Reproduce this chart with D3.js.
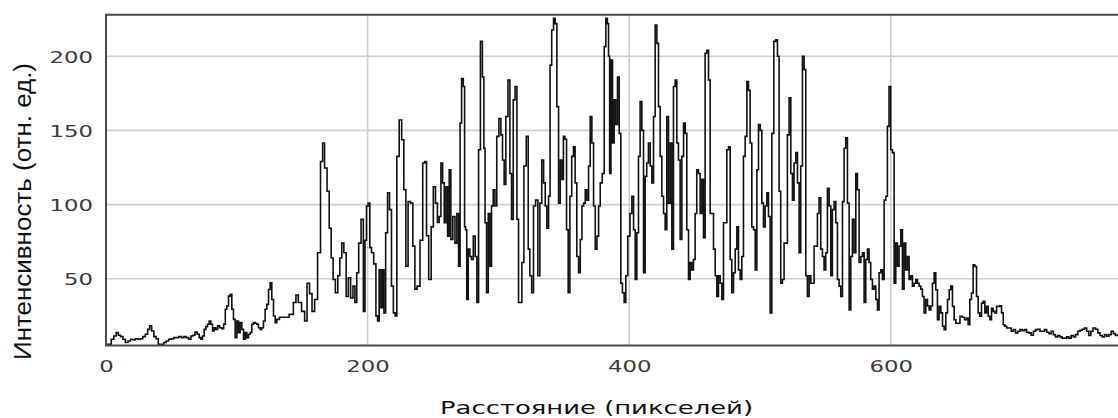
<!DOCTYPE html>
<html>
<head>
<meta charset="utf-8">
<script src="https://cdn.jsdelivr.net/npm/d3@7"></script>
<style>
  html, body { margin: 0; padding: 0; background: #fff; overflow: hidden; }
  svg { display: block; }
</style>
</head>
<body>
<svg id="chart" width="1118" height="418"></svg>
<script>
// Line profile: intensity along the scan line (pixel distance)
const distance = [
  0,3,5,6.9,8.7,10.2,12,13.8,15.8,17.8,19.6,21.4,23.4,25.5,27.3,29,31.1,32.6,34.1,35.7,
  37.5,39.2,40.8,43.3,45.1,46.9,48.9,51,52.7,54.5,56.6,58.6,60.4,62.2,64.2,65.7,67.3,68.8,70.6,71.9,
  73.1,74.4,75.7,77,78.2,79.5,80.8,82.1,83.3,84.6,86.1,87.7,89.2,90.7,91.7,93,94.3,95.6,96.8,98.1,
  99.4,100.7,101.9,103.2,104.5,105.8,107,108.3,109.6,110.9,112.1,113.4,114.7,115.9,117.2,118.5,119.8,121,122.3,123.6,
  124.9,126.1,127.4,128.7,130,131.2,134,138,142,144.5,146,148,151,152.7,154.7,156.5,158.5,160.5,163,165,
  166.2,168,170,171.3,173,174.3,176.4,178,179.5,181,182.7,184.5,186,188,189.6,191,192.4,194,196,197.5,
  198.5,199.8,201,202.4,203.6,205.7,207,208.2,209.5,210.8,212,213,214.6,215.9,217.6,218.9,220.5,221.7,223,225.3,
  226.8,228.6,229.9,232,233.7,235.5,236.8,238.8,241.3,243,244.4,245.7,247.7,249.5,251,252.8,254,255.4,256.7,258,
  259.2,260.5,261.8,263,264.3,266,267.6,268.9,270.2,271.2,272.5,273.8,274.5,275.3,276.3,277.6,278.8,280,281.6,282.9,
  284.2,285.5,287,288.5,289.3,290.3,291.6,292.9,294.1,295.4,296.7,298,299.5,301.3,302.5,303.8,305,306.4,308.2,309.4,
  310.7,312,313.5,314.8,316,317.3,318.6,320.4,322.2,323.4,324.7,326.2,327.5,329.3,331,332.4,333.9,335.2,336.4,337.7,
  339,340,341.5,342.8,344,345.4,346.6,348,349.2,350.2,351.5,352.7,354,355.3,356.8,358,359.3,360.6,362,363.2,
  364.5,365.8,367,368.3,369.6,370.8,372.1,373.4,374.7,376,377.2,378.5,380.3,381.5,382.8,383.8,384.6,385.5,386.6,387.9,
  389.1,390.4,391.7,393,394.2,395.5,396.8,398,399.8,401.4,402.7,404,405.2,406.5,407.7,409,410.3,411.6,412.8,414,
  415.4,416.7,418,419.2,420.5,421.8,423,424.3,425.6,426.9,428.1,429.4,430.7,432,433.2,434.5,435.8,437,438.3,439.6,
  440.9,442.2,443.4,444.7,446,447.2,448.5,449.8,451,452.3,453.6,454.9,456.2,457.4,458.7,460,461.3,462.5,463.8,465.1,
  466.4,467.6,468.9,470.2,471.5,472.7,474,475.3,476.6,477.8,479.1,480.4,481.7,482.9,484.2,485.5,486.7,488,489.3,490.6,
  491.8,493.1,494.4,495.7,497,498.2,499.5,500.8,502,503.3,504.6,505.9,507.1,508.4,509.7,511.4,512.7,514,515.2,516.5,
  517.8,519,520.3,521.6,522.9,524.2,525.4,526.7,528,529.3,530.5,531.8,533.1,534.4,535.6,536.9,538.2,539.5,540.7,542,
  543.3,544.5,545.8,547.1,548.4,549.6,550.9,552.2,553.5,554.7,556,557.3,558.6,559.8,561.1,562.4,563.7,564.9,566.2,567.5,
  568.8,570,571.3,572.6,573.9,575.1,576.4,577.7,579,580.2,581.5,582.8,584,585.3,586.6,587.9,589.2,590.4,591.7,593,
  594.3,595.5,596.8,598,599.3,600.6,601.9,603.2,604.4,605.7,607,608.3,609.5,610.8,612,613.4,614.6,615.9,617.2,618.5,
  619.7,621,622.3,623.6,624.8,626.1,627.4,628.7,629.9,631.2,632.5,633.8,635,636.3,637.6,638.9,640.2,641.4,642.7,644,
  645.3,646.5,647.8,649.1,650.4,652.1,653.7,655.5,657.2,658.5,659.8,661,662.3,663.6,664.9,666.2,667.4,668.7,670,671.3,
  672.5,673.8,675.1,676.4,677.6,678.9,680.2,681.5,682.7,684,685.3,686.6,687.8,689.4,691.2,693,694.5,696.2,698,699.6,
  701.3,703,704.6,706.4,708.2,709.8,711.5,713.3,714.8,716.6,718.4,720,721.8,723.5,725,726.8,728.6,730.1,731.9,733.7,
  735.2,737,738.8,740.3,742.1,743.9,745.4,747.2,749,750.5,752.3,753.6,755.6,757.4,759.2,760.7,762.5,764.3,765.8,767.6,
  769.4,770.9,772.7,774.5
];

const intensity = [
  5.8,5.8,9.2,11.4,13.7,11.9,11,9.2,7,8,9.2,8.7,9.6,9.2,9.6,11,12.6,15.9,18.2,14.8,
  11,9.6,5.8,5.8,7,8,9.2,9.6,10.3,10.3,11,10.3,11,10.3,9.2,11.4,11.9,14.1,12.6,10.3,
  9.2,11.4,15.9,17.7,19.3,21.5,19.3,14.8,17,15.9,18.2,17,16.4,19.3,29.4,31.6,38.3,39.5,29.4,22.6,
  10.3,21.5,13.7,20.4,15.9,9.2,13.7,10.3,12.6,13.7,19.3,20.4,20,19.3,17,15.9,17,21.5,29.4,32.7,
  42.8,47.3,36,24.9,20.4,22.6,24,24,26,34,39,34,28,21.5,47,40,28,36,67.5,129,
  141.5,124.7,109,84,64,49.5,40.6,52,64,74,67.5,38,50.7,37,45,34,54,74,90,28,
  76,99,101,71,67.5,60,25,21.5,56,30.5,56,27,81,108,96.6,45,27,25,132.5,157,
  143.7,110,58.5,102,101,72,43,45,76,128,129,79,49.5,85,112,101,88,92,128,114.6,
  87.7,112,78.7,123.5,76.5,92,74,94,58.5,155,185,179.6,85,83,36,70,65,63,78.7,65,
  34,137,210,186,138,87.7,40.6,94,58.5,99,110,99,146,158,147,130,113.5,159.4,184,121,
  90,170.6,179.6,90,34,34,61,126,146,70,52,40.6,99,103,52,101,130,114.6,99,84,
  105.6,194,217.7,225.6,222,166,101,130,117,146,144,83,40.6,105.6,132.5,139,114.6,65,54,76.5,
  99,101,110,103,126,159.4,141.5,99,70,78.7,99,114.6,121,206.5,225.6,222,200,121,197.5,141.5,
  170.6,154,186,148,47,40.6,34,52,78.7,94,105.6,83,49.5,81,132.5,169.5,150,54,119,128,
  141.5,126,114.6,159.4,221,208.7,166,132.5,105.6,94,83,159.4,101,141.5,70,179.6,184,141.5,130,76.5,
  132.5,155,148,83,49.5,61,56,63,94,123.5,121,94,117,77.6,202,204,184,94,94,70,
  52,38,52,47,36,87.7,87.7,137,139,63,40.6,54,70,85,56,49.5,65,132.5,146,183,
  177,141.5,85,83,56,123.5,154,150,101,85,99,108,92,27,148,210,211,200,109,47,
  49.5,74,74,147,172,121,103,128,135,114.6,67.5,126,200,191,52,38,52,47,47,72,
  72,94,104.5,70,65,56,67.5,111,99,52,96.6,102,87.7,49.5,45,38,102,138,145,101,
  29,65,90,67.5,121,110,61,65,67.5,34,63,70,61,49.5,43,45,36,29,54,56,
  49.5,103,105.6,152.7,179.6,137,135,47,74,58.5,72,83,43,74,56,65,49.5,52,45,47,
  49.5,47,45,43,38,27,36,31.6,29,31.6,47,54,42.6,22.4,31.4,27,18,15.7,27,36,
  42.6,45,31.4,22.4,20,20,24.7,24,22.4,23.5,19,36,40.4,59.4,58.3,38,27,24.7,33.6,34.8,
  27,31.4,24.7,22.4,30,28,27,31.4,31.4,31.8,27,19,18,16.8,16.8,14.6,15.7,13.5,14.6,15.7,
  15,15.7,13.9,13.5,12,14.6,15.7,16,14.6,14.6,15.7,13.9,13,14.6,12.3,10.8,11.7,10.8,10,10,
  10.8,10,11.7,10.8,12.3,14.6,15.3,16,16.8,14.6,11.7,14.6,16.8,16,13.5,11.7,10.8,12.3,11.3,12.3,
  14.6,13,11.7,12.3
];

const xTicks = [0, 200, 400, 600];
const yTicks = [50, 100, 150, 200];
const xTitle = "Расстояние (пикселей)";
const yTitle = "Интенсивность (отн. ед.)";

const svg = d3.select("#chart");

const plotLeft = 106, plotTop = 14.7, plotBottom = 345.5;
const pxPerUnit = 1.308;
const xMax = 775;

const x = d3.scaleLinear().domain([0, xMax]).range([plotLeft, plotLeft + xMax * pxPerUnit]);
const y = d3.scaleLinear().domain([5, 228]).range([plotBottom, plotTop]);
const plotRight = x.range()[1];

svg.append("defs").append("clipPath").attr("id", "plot-clip")
  .append("rect").attr("x", plotLeft).attr("y", plotTop)
  .attr("width", plotRight - plotLeft).attr("height", plotBottom - plotTop);

// grid lines
const grid = svg.append("g").attr("stroke", "#cfcfcf").attr("stroke-width", 1.6);
grid.selectAll("line.gy").data(yTicks).join("line").attr("class", "gy")
  .attr("x1", plotLeft).attr("x2", plotRight)
  .attr("y1", d => y(d)).attr("y2", d => y(d));
grid.selectAll("line.gx").data(xTicks.filter(d => d > 0)).join("line").attr("class", "gx")
  .attr("x1", d => x(d)).attr("x2", d => x(d))
  .attr("y1", plotTop).attr("y2", plotBottom);

// profile trace
const points = distance.map((d, i) => [d, intensity[i]]);
const line = d3.line().x(d => x(d[0])).y(d => y(d[1])).curve(d3.curveStep);
svg.append("g").attr("clip-path", "url(#plot-clip)")
  .append("path").datum(points)
  .attr("fill", "none").attr("stroke", "#111").attr("stroke-width", 1.6)
  .attr("d", line);

// frame (top, left, bottom)
svg.append("path")
  .attr("d", `M${plotRight},${plotTop}H${plotLeft}V${plotBottom}H${plotRight}`)
  .attr("fill", "none").attr("stroke", "#4a4a4a").attr("stroke-width", 2);

// axes (labels only)
const stretch = 1.38;
const xAxis = d3.axisBottom(x).tickValues(xTicks).tickSize(0).tickPadding(0).tickFormat(d3.format("d"));
const gx = svg.append("g").attr("transform", `translate(0,${plotBottom})`).call(xAxis);
gx.select(".domain").remove();
gx.selectAll("text")
  .attr("y", 26).attr("dy", 0)
  .attr("fill", "#3a3a3a")
  .style("font-family", "'DejaVu Sans', Verdana, sans-serif")
  .style("font-size", "16.5px");

const yAxis = d3.axisLeft(y).tickValues(yTicks).tickSize(0).tickPadding(13).tickFormat(d3.format("d"));
const gy = svg.append("g").attr("transform", `translate(${plotLeft},0)`).call(yAxis);
gy.select(".domain").remove();
gy.selectAll("text")
  .attr("dy", "0.36em")
  .attr("fill", "#3a3a3a")
  .style("font-family", "'DejaVu Sans', Verdana, sans-serif")
  .style("font-size", "16.5px");

// widen tick label glyphs
svg.selectAll(".tick text").each(function () {
  const w = this.getComputedTextLength();
  d3.select(this).attr("textLength", w * stretch).attr("lengthAdjust", "spacingAndGlyphs");
});

// axis titles
svg.append("text")
  .attr("x", 596.5).attr("y", 414)
  .attr("text-anchor", "middle")
  .attr("fill", "#111")
  .style("font-family", "'DejaVu Sans', Verdana, sans-serif")
  .style("font-size", "18px")
  .attr("textLength", 313).attr("lengthAdjust", "spacingAndGlyphs")
  .text(xTitle);

svg.append("g")
  .attr("transform", `translate(31,211.5) scale(1.4,1) rotate(-90)`)
  .append("text")
  .attr("text-anchor", "middle")
  .attr("fill", "#111")
  .style("font-family", "'Liberation Sans', Arial, sans-serif")
  .style("font-size", "17px")
  .attr("textLength", 297).attr("lengthAdjust", "spacingAndGlyphs")
  .text(yTitle);
</script>
</body>
</html>
